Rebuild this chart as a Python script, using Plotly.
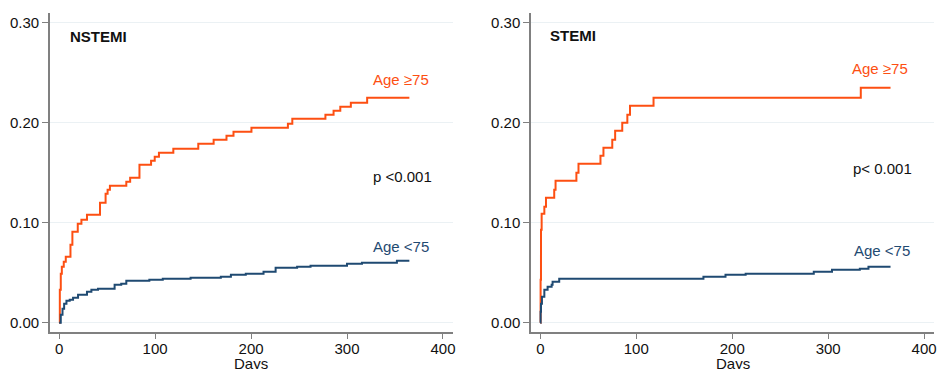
import plotly.graph_objects as go

# NSTEMI, Age >=75
nst_old_days = [0, 0.7, 1.7, 2.8, 4.8, 6.9, 11.8, 13.8, 19.4, 23.2, 29, 42.6, 48.4, 50.5, 52.9,
                70, 74, 83.7, 95.8, 99.6, 104, 119, 145, 161, 174.4, 181.7, 200.4, 238.4, 243,
                277.5, 286, 293, 304, 321, 365]
nst_old_vals = [0, 0.033, 0.049, 0.056, 0.061, 0.066, 0.078, 0.091, 0.099, 0.103, 0.108, 0.120,
                0.129, 0.133, 0.137, 0.141, 0.145, 0.158, 0.162, 0.166, 0.170, 0.174, 0.179,
                0.183, 0.187, 0.191, 0.195, 0.199, 0.204, 0.208, 0.212, 0.216, 0.220, 0.225, 0.225]
# NSTEMI, Age <75
nst_young_days = [0, 1.7, 3.5, 5.2, 7.6, 11, 14.5, 19.7, 29, 33.6, 40.5, 57.8, 64.7, 70, 94, 108,
                  137, 168.5, 179, 194.5, 213, 225.6, 248, 262, 300, 315.6, 352, 365]
nst_young_vals = [0, 0.008, 0.014, 0.019, 0.022, 0.023, 0.025, 0.028, 0.031, 0.033, 0.034, 0.038,
                  0.039, 0.042, 0.043, 0.044, 0.045, 0.046, 0.048, 0.049, 0.051, 0.055, 0.056,
                  0.057, 0.059, 0.060, 0.062, 0.062]
# STEMI, Age >=75
st_old_days = [0, 0.3, 0.7, 1.4, 4.2, 5.9, 14.5, 15.9, 37.6, 39.8, 62.7, 65.8, 75, 78, 85.4, 90.7,
               93.5, 118, 334, 365]
st_old_vals = [0, 0.043, 0.093, 0.109, 0.116, 0.125, 0.133, 0.142, 0.150, 0.159, 0.167, 0.175,
               0.183, 0.192, 0.200, 0.208, 0.217, 0.225, 0.235, 0.235]
# STEMI, Age <75
st_young_days = [0, 0.3, 0.7, 1.7, 4.2, 7.6, 11.8, 12.8, 19.7, 170, 193, 214, 285, 304, 333, 342, 365]
st_young_vals = [0, 0.011, 0.019, 0.026, 0.033, 0.036, 0.038, 0.041, 0.044, 0.046, 0.048, 0.049,
                 0.051, 0.053, 0.054, 0.056, 0.056]

x_ticks = [0, 100, 200, 300, 400]
y_ticks = [0.0, 0.1, 0.2, 0.3]

ORANGE = "#fd4f12"
BLUE = "#1f4a72"
FONT = "Liberation Sans, Arial, Helvetica, sans-serif"
FS = 15

fig = go.Figure()
fig.add_trace(go.Scatter(x=nst_old_days, y=nst_old_vals, mode="lines", line=dict(shape="hv", color=ORANGE, width=2), xaxis="x", yaxis="y"))
fig.add_trace(go.Scatter(x=nst_young_days, y=nst_young_vals, mode="lines", line=dict(shape="hv", color=BLUE, width=2), xaxis="x", yaxis="y"))
fig.add_trace(go.Scatter(x=st_old_days, y=st_old_vals, mode="lines", line=dict(shape="hv", color=ORANGE, width=2), xaxis="x2", yaxis="y2"))
fig.add_trace(go.Scatter(x=st_young_days, y=st_young_vals, mode="lines", line=dict(shape="hv", color=BLUE, width=2), xaxis="x2", yaxis="y2"))

W, H = 941, 369
ydom = [(H - 332) / H, (H - 13) / H]
xdom1 = [50 / W, 454 / W]
xdom2 = [532.7 / W, 936.7 / W]

axis_common_x = dict(range=[-9.7, 410], tickvals=x_ticks, ticks="outside", ticklen=5, tickwidth=1,
                     tickcolor="#808080", showline=True, linecolor="#808080", linewidth=1.5,
                     showgrid=False, zeroline=False, tickfont=dict(size=FS, color="#111"),
                     ticklabelstandoff=-3)
axis_common_y = dict(range=[-0.0093, 0.3097], tickvals=y_ticks, tickformat=".2f", ticks="outside",
                     ticklen=6, tickwidth=1, tickcolor="#808080", showline=True, linecolor="#808080",
                     linewidth=1.5, showgrid=True, gridcolor="#ebf1f4", gridwidth=1, zeroline=False,
                     tickfont=dict(size=FS, color="#111"))

fig.update_layout(
    width=W, height=H, margin=dict(l=0, r=0, t=0, b=0),
    paper_bgcolor="white", plot_bgcolor="white", showlegend=False,
    font=dict(family=FONT, size=FS, color="#111"),
    xaxis=dict(domain=xdom1, anchor="y", **axis_common_x),
    yaxis=dict(domain=ydom, anchor="x", **axis_common_y),
    xaxis2=dict(domain=xdom2, anchor="y2", **axis_common_x),
    yaxis2=dict(domain=ydom, anchor="x2", **axis_common_y),
)

def ann(text, x, y, xref, yref, color="#111", bold=False, xanchor="left"):
    fig.add_annotation(text=f"<b>{text}</b>" if bold else text, x=x, y=y, xref=xref, yref=yref,
                       xanchor=xanchor, yanchor="middle", showarrow=False,
                       font=dict(family=FONT, size=FS, color=color))

ann("NSTEMI", 9, 0.2857, "x", "y", bold=True)
ann("Age ≥75", 324.7, 0.2427, "x", "y", color=ORANGE)
ann("p <0.001", 324.7, 0.1467, "x", "y")
ann("Age <75", 324.7, 0.0767, "x", "y", color=BLUE)

ann("STEMI", 8.3, 0.2867, "x2", "y2", bold=True)
ann("Age ≥75", 322.6, 0.2537, "x2", "y2", color=ORANGE)
ann("p< 0.001", 323.6, 0.1547, "x2", "y2")
ann("Age <75", 324.6, 0.0727, "x2", "y2", color=BLUE)

ann("Days", 252 / W, (H - 363) / H, "paper", "paper", xanchor="center")
ann("Days", 735 / W, (H - 363) / H, "paper", "paper", xanchor="center")

fig.write_html("out.html", config={"displayModeBar": False},
               post_script="document.body.style.margin='0px';document.body.style.overflow='hidden';")
